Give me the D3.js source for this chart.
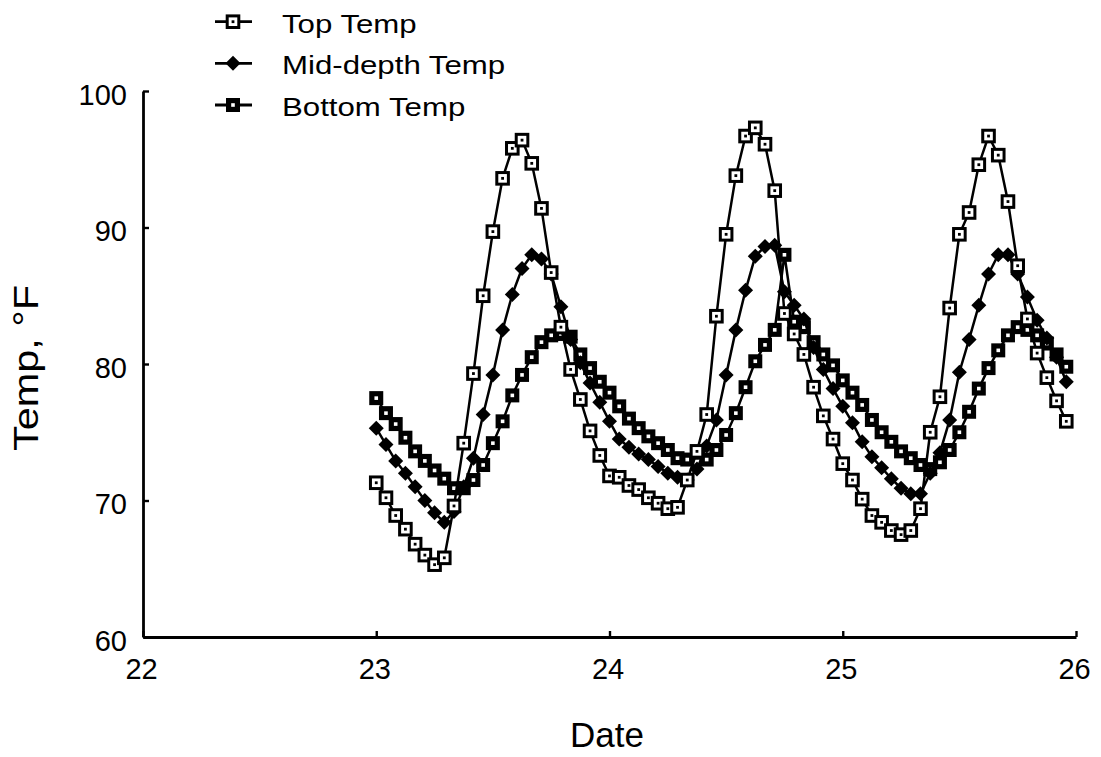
<!DOCTYPE html>
<html>
<head>
<meta charset="utf-8">
<script src="https://cdn.jsdelivr.net/npm/d3@7"></script>
<style>
body { margin: 0; background: #fff; }
svg text { font-family: "Liberation Sans", Arial, Helvetica, sans-serif; fill: #000; }
</style>
</head>
<body>
<svg id="chart" width="1101" height="757"></svg>
<script>
// readings are hourly, starting at day 23 00:00
var startDay = 23
var hours = [0,1,2,3,4,5,6,7,8,9,10,11,12,13,14,15,16,17,18,19,20,21,22,23,
	24,25,26,27,28,29,30,31,32,33,34,35,36,37,38,39,40,41,42,43,44,45,46,47,
	48,49,50,51,52,53,54,55,56,57,58,59,60,61,62,63,64,65,66,67,68,69,70,71]

var topTemp = [71.3,70.2,68.9,67.9,66.8,66.0,65.3,65.8,69.6,74.2,
	79.3,85.0,89.7,93.6,95.8,96.4,94.7,91.4,86.7,82.7,
	79.6,77.4,75.1,73.3,71.8,71.7,71.1,70.8,70.2,69.8,
	69.4,69.5,71.5,73.6,76.3,83.5,89.5,93.8,96.7,97.3,
	96.1,92.7,83.7,82.2,80.7,78.3,76.2,74.5,72.7,71.5,
	70.1,68.9,68.4,67.8,67.5,67.8,69.4,75.0,77.6,84.1,
	89.5,91.1,94.6,96.7,95.3,91.9,87.2,83.3,80.8,79.0,77.3,75.8]

var midTemp = [75.3,74.1,72.9,72.0,71.0,70.0,69.1,68.4,69.2,71.0,
	73.1,76.3,79.2,82.5,85.1,87.0,88.0,87.7,86.6,84.2,
	81.8,80.1,78.6,77.2,75.8,74.5,73.9,73.4,73.0,72.5,
	72.0,71.7,71.5,72.3,74.0,75.9,79.2,82.5,85.4,87.9,
	88.6,88.7,85.3,84.3,83.3,81.2,79.6,78.2,76.9,75.7,
	74.3,73.2,72.4,71.6,70.9,70.5,70.5,72.0,73.5,75.9,
	79.4,81.8,84.3,86.6,88.0,88.0,86.6,84.9,83.2,81.9,80.5,78.7]

var bottomTemp = [77.5,76.4,75.6,74.6,73.6,72.9,72.2,71.6,70.9,70.9,
	71.5,72.6,74.2,75.8,77.7,79.2,80.5,81.6,82.1,82.2,
	82.0,80.7,79.7,78.7,77.9,76.9,76.0,75.3,74.7,74.2,
	73.7,73.1,73.0,73.5,73.0,73.7,74.8,76.4,78.3,80.2,
	81.4,82.5,88.0,83.1,82.7,81.6,80.7,79.9,78.8,77.9,
	77.0,75.9,75.0,74.3,73.6,73.1,72.6,72.3,72.8,73.7,
	75.0,76.5,78.2,79.7,81.0,82.1,82.7,82.5,82.1,81.5,80.7,79.8]

var seriesNames = ['Top Temp', 'Mid-depth Temp', 'Bottom Temp']
var xTicks = [22, 23, 24, 25, 26]
var yTicks = [60, 70, 80, 90, 100]

var margin = {
	'left' : 143,
	'right' : 25,
	'top' : 91,
	'bottom' : 120,
}

var svg = d3.select('#chart')
var width = +svg.attr('width')
var height = +svg.attr('height')

var xscale = d3.scaleLinear().domain([22, 26]).range([margin.left, width - margin.right])
var yscale = d3.scaleLinear().domain([60, 100]).range([height - margin.bottom, margin.top])

//MARK: axes
var xAxis = svg.append('g')
	.attr('transform', 'translate(0,' + (height - margin.bottom) + ')')
	.call(d3.axisBottom(xscale).tickValues(xTicks).tickFormat(d3.format('d'))
		.tickSize(-6).tickSizeOuter(0).tickPadding(21))

var yAxis = svg.append('g')
	.attr('transform', 'translate(' + margin.left + ',0)')
	.call(d3.axisLeft(yscale).tickValues(yTicks).tickFormat(d3.format('d'))
		.tickSize(-6).tickSizeOuter(0).tickPadding(16))

svg.selectAll('.domain').attr('stroke', '#000').attr('stroke-width', 2.8)
svg.selectAll('.tick line').attr('stroke', '#000').attr('stroke-width', 2.4)
svg.selectAll('.tick text').attr('fill', '#000').style('font-size', '29px')
xAxis.attr('font-family', null).attr('font-size', null)
yAxis.attr('font-family', null).attr('font-size', null)
xAxis.selectAll('.tick text').attr('dx', '-2')
yAxis.selectAll('.tick text').attr('dy', '0.45em')

svg.append('text')
	.attr('x', 607)
	.attr('y', 747)
	.attr('text-anchor', 'middle')
	.style('font-size', '35px')
	.text('Date')

svg.append('text')
	.attr('transform', 'translate(38,368)rotate(-90)')
	.attr('text-anchor', 'middle')
	.attr('textLength', 166)
	.attr('lengthAdjust', 'spacingAndGlyphs')
	.style('font-size', '35px')
	.text('Temp, \u00B0F')

//MARK: markers
var drawMarker = function(g, kind)
{
	if(kind == 0)
	{
		g.append('rect').attr('x', -5.8).attr('y', -5.8).attr('width', 11.6).attr('height', 11.6)
			.attr('fill', '#fff').attr('stroke', '#000').attr('stroke-width', 3)
		g.append('rect').attr('x', -1.4).attr('y', -1.4).attr('width', 2.8).attr('height', 2.8)
			.attr('fill', '#000')
	}
	else if(kind == 1)
	{
		g.append('path').attr('d', 'M0,-7.5L7.5,0L0,7.5L-7.5,0Z').attr('fill', '#000')
	}
	else
	{
		g.append('rect').attr('x', -7).attr('y', -7).attr('width', 14).attr('height', 14)
			.attr('fill', '#000')
		g.append('rect').attr('x', -1.8).attr('y', -1.8).attr('width', 3.6).attr('height', 3.6)
			.attr('fill', '#fff')
	}
}

var allSeries = [topTemp, midTemp, bottomTemp]

var line = d3.line()
	.x(d => xscale(d[0]))
	.y(d => yscale(d[1]))

var plot = svg.append('g')

// draw bottom first so the top series sits above
for (var s = allSeries.length - 1; s >= 0; s--) {
	var data = []
	for (var i = 0; i < hours.length; i++) {
		data.push([startDay + hours[i] / 24, allSeries[s][i]])
	}

	plot.append('path')
		.datum(data)
		.attr('fill', 'none')
		.attr('stroke', '#000')
		.attr('stroke-width', 2.5)
		.attr('d', line)

	var kind = s
	plot.selectAll('.m' + s)
		.data(data)
		.enter().append('g')
			.attr('class', 'm' + s)
			.attr('transform', d => 'translate(' + xscale(d[0]) + ',' + yscale(d[1]) + ')')
			.each(function() { drawMarker(d3.select(this), kind) })
}

//MARK: legend
var legendRows = [21.7, 63.3, 105]
var legend = svg.append('g')

seriesNames.forEach(function(name, i)
{
	var row = legend.append('g').attr('transform', 'translate(0,' + legendRows[i] + ')')
	row.append('line')
		.attr('x1', 215).attr('x2', 252)
		.attr('stroke', '#000').attr('stroke-width', 2.8)
	var m = row.append('g').attr('transform', 'translate(233,0)')
	drawMarker(m, i)

	var t = row.append('text')
		.attr('x', 282)
		.attr('y', 11)
		.style('font-size', '26px')
		.text(name)
	// the scanned legend type is noticeably wider than Arial
	var w = t.node().getComputedTextLength()
	t.attr('textLength', w * 1.2).attr('lengthAdjust', 'spacingAndGlyphs')
})
</script>
</body>
</html>
